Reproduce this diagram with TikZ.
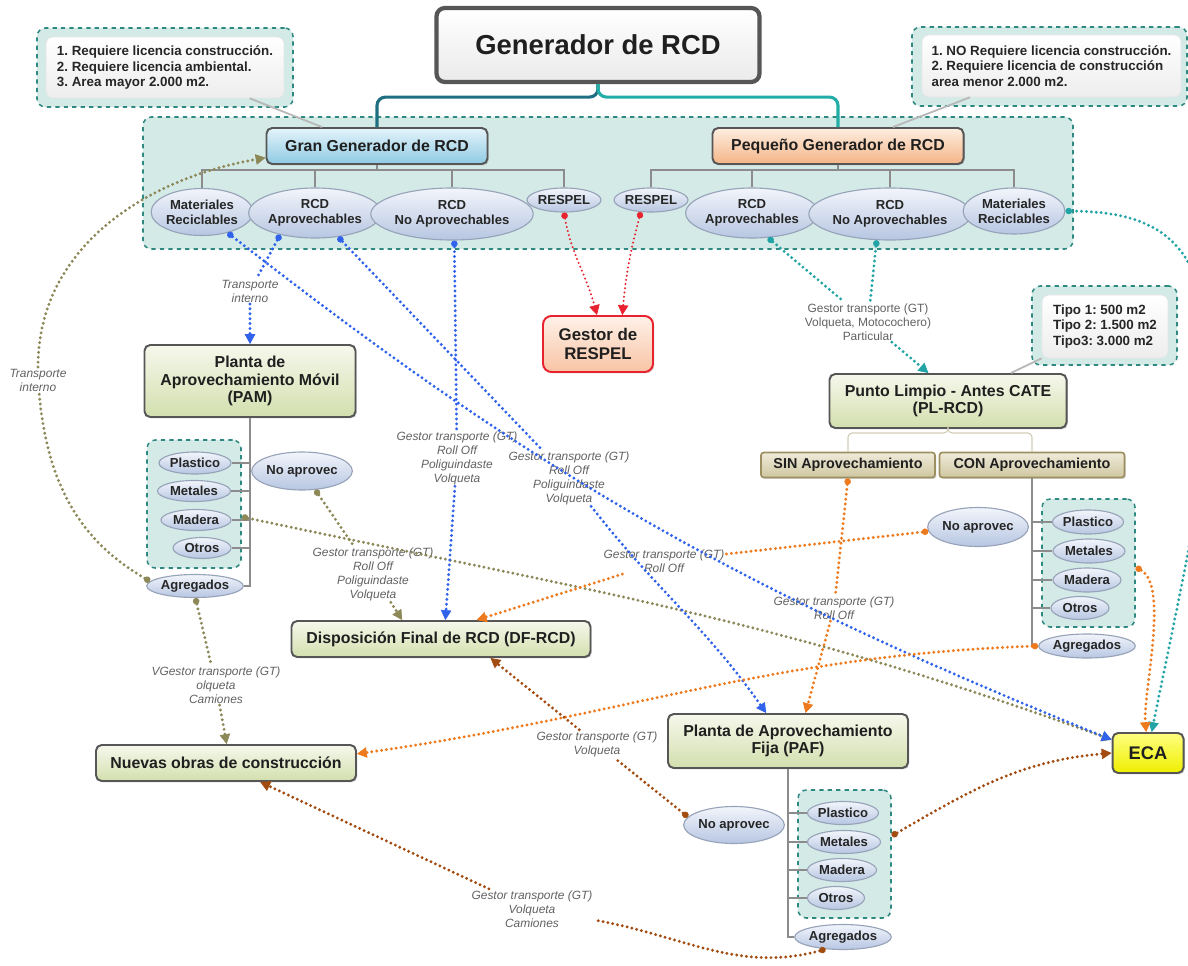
\documentclass[tikz,border=0pt]{standalone}
\usepackage{fontspec}
\setmainfont{Liberation Sans}
\usetikzlibrary{arrows.meta, shapes.geometric, shadows}
\frenchspacing

\definecolor{linkblue}{HTML}{3062EC}
\definecolor{linkteal}{HTML}{22A3A6}
\definecolor{linkred}{HTML}{E8222E}
\definecolor{linkolive}{HTML}{8C8858}
\definecolor{linkorange}{HTML}{EE7A1E}
\definecolor{linkbrown}{HTML}{A24C12}
\definecolor{hubdark}{HTML}{1E6F82}
\definecolor{hublight}{HTML}{22ADA6}
\definecolor{grpfill}{HTML}{D4EAE7}
\definecolor{grpline}{HTML}{2E8A80}
\definecolor{boxline}{HTML}{565656}
\definecolor{greentop}{HTML}{F6F8EC}
\definecolor{greenbot}{HTML}{D3DFAE}
\definecolor{tantop}{HTML}{EFEBDA}
\definecolor{tanbot}{HTML}{CFC6A0}
\definecolor{tanline}{HTML}{9C9060}
\definecolor{grantop}{HTML}{E4F3FA}
\definecolor{granbot}{HTML}{8FCBE4}
\definecolor{peqtop}{HTML}{FEEEE0}
\definecolor{peqbot}{HTML}{F4B487}
\definecolor{respeltop}{HTML}{FEF1E8}
\definecolor{respelbot}{HTML}{F8C4A4}
\definecolor{ecatop}{HTML}{FFFF80}
\definecolor{ecabot}{HTML}{EEEE00}
\definecolor{ellitop}{HTML}{F2F5FB}
\definecolor{ellibot}{HTML}{B7C6E2}
\definecolor{elliline}{HTML}{97A3B8}

\newlength\pxl
\setlength{\pxl}{0.025cm}

\begin{document}
\begin{tikzpicture}[
    x=0.025cm, y=-0.025cm,
    font=\fontsize{11.3}{12.5}\selectfont\bfseries,
    block/.style={draw=boxline, line width=1.4pt, rounded corners=4pt, align=center,
    inner sep=0pt, text=black!88,
    drop shadow={shadow xshift=1pt, shadow yshift=-1pt, opacity=0.3}},
    greenblock/.style={block, top color=greentop, bottom color=greenbot},
    tanblock/.style={block, draw=tanline, line width=1.2pt, rounded corners=2pt,
    top color=tantop, bottom color=tanbot, font=\fontsize{10.2}{12}\selectfont\bfseries},
    elli/.style={ellipse, draw=elliline, line width=0.8pt, top color=ellitop,
    bottom color=ellibot, inner sep=0pt, align=center, text=black!85,
    font=\fontsize{9.3}{10.7}\selectfont\bfseries},
    grp/.style={draw=grpline, dashed, line width=1.1pt, rounded corners=6pt, fill=grpfill},
    note/.style={rounded corners=5pt, top color=white, bottom color=black!7, draw=black!10,
    align=left, inner sep=0pt, text=black!85, font=\fontsize{9.5}{11}\selectfont\bfseries},
    lbl/.style={font=\fontsize{8.5}{10}\selectfont\mdseries\itshape, text=black!62,
    align=center, inner sep=1pt},
    tree/.style={draw=black!45, line width=0.8pt},
    hub/.style={line width=2.2pt, rounded corners=6pt},
    callout/.style={draw=black!28, line width=1.3pt},
    link/.style={line width=2.3pt, dash pattern=on 0pt off 3.5pt, line cap=round},
    arr/.style={-{Triangle[length=7pt,width=7.5pt,line width=0.5pt]}},
    dotarr/.style={{Circle[length=4.6pt,line width=0.4pt]}-{Triangle[length=7pt,width=7.5pt,line width=0.5pt]}},
    dotno/.style={{Circle[length=4.6pt,line width=0.4pt]}-}
    ]
    \useasboundingbox (0,0) rectangle (1188,965);

    % dashed groups
    \node[grp, minimum width=930\pxl, minimum height=132\pxl] (genGrp)  at (608,183)      {};
    \node[grp, minimum width=256\pxl, minimum height=79\pxl]  (noteL)   at (165,67.5)     {};
    \node[grp, minimum width=275\pxl, minimum height=79\pxl]  (noteR)   at (1049.5,66.5)  {};
    \node[grp, minimum width=145\pxl, minimum height=79\pxl]  (tipoOut) at (1104.5,325.5) {};
    \node[grp, minimum width=94\pxl,  minimum height=128\pxl] (grpP)    at (194,504)      {};
    \node[grp, minimum width=93\pxl,  minimum height=128\pxl] (grpC)    at (1088.5,563)   {};
    \node[grp, minimum width=93\pxl,  minimum height=128\pxl] (grpF)    at (844.5,854)    {};

    \node[note, minimum width=238\pxl, minimum height=61\pxl] (noteLin) at (165,67.5)
      {1. Requiere licencia construcción.\\2. Requiere licencia ambiental.\\3. Area mayor 2.000 m2.};
    \node[note, minimum width=259\pxl, minimum height=62\pxl] (noteRin) at (1051.5,66)
      {1. NO Requiere licencia construcción.\\2. Requiere licencia de construcción\\area menor 2.000 m2.};
    \node[note, minimum width=126\pxl, minimum height=63\pxl] (tipoIn)  at (1105,326.5)
      {Tipo 1: 500 m2\\Tipo 2: 1.500 m2\\Tipo3: 3.000 m2};

    % main blocks
    \node[block, line width=3pt, rounded corners=6pt, top color=white, bottom color=black!8,
      minimum width=323\pxl, minimum height=74\pxl,
      font=\fontsize{19.5}{22}\selectfont\bfseries] (gen) at (598,45) {Generador de RCD};
    \node[block, top color=grantop, bottom color=granbot, minimum width=221\pxl,
      minimum height=36\pxl] (gran) at (377,146) {Gran Generador de RCD};
    \node[block, top color=peqtop, bottom color=peqbot, minimum width=251\pxl,
      minimum height=36\pxl] (peq)  at (838,146) {Pequeño Generador de RCD};
    \node[block, draw=linkred, rounded corners=6pt, top color=respeltop, bottom color=respelbot,
      minimum width=110\pxl, minimum height=56\pxl,
      font=\fontsize{12}{13.5}\selectfont\bfseries] (respel) at (598,344) {Gestor de\\RESPEL};
    \node[greenblock, minimum width=211\pxl, minimum height=72\pxl] (pam) at (250,381)
      {Planta de\\Aprovechamiento Móvil\\(PAM)};
    \node[greenblock, minimum width=299\pxl, minimum height=36\pxl] (df) at (441,639)
      {Disposición Final de RCD (DF-RCD)};
    \node[greenblock, minimum width=260\pxl, minimum height=36\pxl] (nuevas) at (226,763)
      {Nuevas obras de construcción};
    \node[greenblock, minimum width=237\pxl, minimum height=54\pxl] (pl) at (948,401)
      {Punto Limpio - Antes CATE\\(PL-RCD)};
    \node[greenblock, minimum width=240\pxl, minimum height=54\pxl] (paf) at (788,741)
      {Planta de Aprovechamiento\\Fija (PAF)};
    \node[tanblock, minimum width=174\pxl, minimum height=25\pxl] (sin) at (848,465) {SIN Aprovechamiento};
    \node[tanblock, minimum width=185\pxl, minimum height=25\pxl] (con) at (1032,465) {CON Aprovechamiento};
    \node[block, top color=ecatop, bottom color=ecabot, minimum width=71\pxl, minimum height=40\pxl,
      font=\fontsize{13}{15}\selectfont\bfseries] (eca) at (1148,753) {ECA};

    % generator children
    \node[elli, minimum width=98\pxl,  minimum height=47\pxl] (mrL) at (202,212) {Materiales\\Reciclables};
    \node[elli, minimum width=121\pxl, minimum height=50\pxl] (apL) at (315,213) {RCD\\Aprovechables};
    \node[elli, minimum width=145\pxl, minimum height=52\pxl] (naL) at (452,214) {RCD\\No Aprovechables};
    \node[elli, minimum width=70\pxl,  minimum height=24\pxl] (reL) at (564,200) {RESPEL};
    \node[elli, minimum width=72\pxl,  minimum height=24\pxl] (reR) at (651,200) {RESPEL};
    \node[elli, minimum width=122\pxl, minimum height=50\pxl] (apR) at (752,213) {RCD\\Aprovechables};
    \node[elli, minimum width=145\pxl, minimum height=52\pxl] (naR) at (890,214) {RCD\\No Aprovechables};
    \node[elli, minimum width=97\pxl,  minimum height=46\pxl] (mrR) at (1014,211) {Materiales\\Reciclables};

    % PAM children
    \node[elli, minimum width=72\pxl, minimum height=22\pxl] (plP) at (195,463) {Plastico};
    \node[elli, minimum width=73\pxl, minimum height=21\pxl] (meP) at (194,491) {Metales};
    \node[elli, minimum width=70\pxl, minimum height=21\pxl] (maP) at (196,520) {Madera};
    \node[elli, minimum width=58\pxl, minimum height=21\pxl] (otP) at (202,548) {Otros};
    \node[elli, minimum width=94\pxl, minimum height=23\pxl] (agP) at (195,586) {Agregados};
    \node[elli, minimum width=98\pxl, minimum height=38\pxl] (naP) at (302,471) {No aprovec};

    % PL children
    \node[elli, minimum width=71\pxl, minimum height=24\pxl] (plC) at (1088,522) {Plastico};
    \node[elli, minimum width=72\pxl, minimum height=24\pxl] (meC) at (1089,551) {Metales};
    \node[elli, minimum width=68\pxl, minimum height=24\pxl] (maC) at (1087,580) {Madera};
    \node[elli, minimum width=58\pxl, minimum height=23\pxl] (otC) at (1080,608) {Otros};
    \node[elli, minimum width=93\pxl, minimum height=24\pxl] (agC) at (1087,646) {Agregados};
    \node[elli, minimum width=98\pxl, minimum height=39\pxl] (naC) at (978,527) {No aprovec};

    % PAF children
    \node[elli, minimum width=71\pxl, minimum height=23\pxl] (plF) at (843,813) {Plastico};
    \node[elli, minimum width=73\pxl, minimum height=23\pxl] (meF) at (844,842) {Metales};
    \node[elli, minimum width=69\pxl, minimum height=23\pxl] (maF) at (842,870) {Madera};
    \node[elli, minimum width=57\pxl, minimum height=23\pxl] (otF) at (836,898) {Otros};
    \node[elli, minimum width=91\pxl, minimum height=25\pxl] (agF) at (843,937) {Agregados};
    \node[elli, minimum width=99\pxl, minimum height=37\pxl] (naF) at (734,825) {No aprovec};

    % connector labels
    \node[lbl] (lTIa) at (250,291) {Transporte\\interno};
    \node[lbl] (lTIb) at (38,380)  {Transporte\\interno};
    \node[lbl] (lNA)  at (457,458) {Gestor transporte (GT)\\Roll Off\\Poliguindaste\\Volqueta};
    \node[lbl] (lAP)  at (569,478) {Gestor transporte (GT)\\Roll Off\\Poliguindaste\\Volqueta};
    \node[lbl] (lPM)  at (373,574) {Gestor transporte (GT)\\Roll Off\\Poliguindaste\\Volqueta};
    \node[lbl, font=\fontsize{8.5}{10}\selectfont\mdseries\upshape] (lPL) at (868,322)
      {Gestor transporte (GT)\\Volqueta, Motocochero)\\Particular};
    \node[lbl] (lNC)  at (664,561) {Gestor transporte (GT)\\Roll Off};
    \node[lbl] (lSN)  at (834,608) {Gestor transporte (GT)\\Roll Off};
    \node[lbl] (lAG)  at (216,685) {VGestor transporte (GT)\\olqueta\\Camiones};
    \node[lbl] (lBR)  at (597,744) {Gestor transporte (GT)\\Volqueta};
    \node[lbl] (lBA)  at (532,909) {Gestor transporte (GT)\\Volqueta\\Camiones};

    % hierarchy lines
    \draw[hub, hubdark]  (gen.south) -- ++(0,13) -| (gran.north);
    \draw[hub, hublight] (gen.south) -- ++(0,13) -| (peq.north);
    \draw[callout] (noteLin.-20) -- (gran.161);
    \draw[callout] (noteRin.-159) -- (peq.19);
    \draw[callout] (tipoIn.south west) -- (pl.24);
    \foreach \c in {mrL,apL,naL,reL} \draw[tree] (gran.south) -- ++(0,5) -| (\c.north);
    \foreach \c in {reR,apR,naR,mrR} \draw[tree] (peq.south) -- ++(0,5) -| (\c.north);
    \foreach \c in {plP,meP,maP,otP,agP} \draw[tree] (pam.south) |- (\c.east);
    \foreach \c in {plC,meC,maC,otC,agC} \draw[tree] (con.south) |- (\c.west);
    \foreach \c in {plF,meF,maF,otF,agF} \draw[tree] (paf.south) |- (\c.west);
    \foreach \c in {sin,con} \draw[tree, draw=tanline!45, rounded corners=3pt] (pl.south) -- ++(0,4) -| (\c.north);

    % olive
    \draw[link, linkolive, dotno] (agP.174) to[out=150, in=-85] (lTIb);
    \draw[link, linkolive, arr] (lTIb) to[out=90, in=190] (gran.186);
    \draw[link, linkolive, dotarr] (grpP.-15) to[out=-12, in=160] (eca.160);
    \draw[link, linkolive, dotno] (naP.-55) -- (lPM);
    \draw[link, linkolive, arr] (lPM) -- (df.154);
    \draw[link, linkolive, dotno] (agP.-88) -- (lAG);
    \draw[link, linkolive, arr] (lAG) -- (nuevas.88);

    % blue
    \draw[link, linkblue, dotno] (apL.-148) -- (lTIa);
    \draw[link, linkblue, arr] (lTIa) -- (pam.north);
    \draw[link, linkblue, dotarr] (mrL.-39) to[out=-38, in=158] (eca.160);
    \draw[link, linkblue, dotno] (apL.-46) -- (lAP);
    \draw[link, linkblue, arr] (lAP) to[out=-52, in=125] (paf.128);
    \draw[link, linkblue, dotno] (naL.-85) -- (lNA);
    \draw[link, linkblue, arr] (lNA) -- (df.77);

    % teal
    \draw[link, linkteal, dotno] (apR.-57) -- (lPL);
    \draw[link, linkteal, dotno] (naR.-117) -- (lPL);
    \draw[link, linkteal, arr] (lPL) -- (pl.125);
    \draw[link, linkteal, dotarr] (mrR.east) .. controls (1170,212) and (1215,250) .. (1210,400)
      .. controls (1208,470) and (1170,640) .. (eca.80);

    % red
    \draw[link, linkred, dotarr, line width=1.6pt, dash pattern=on 0pt off 3pt]
      (reL.south) to[out=-80, in=105] (respel.92);
    \draw[link, linkred, dotarr, line width=1.6pt, dash pattern=on 0pt off 3pt]
      (reR.-130) to[out=-105, in=85] (respel.50);

    % orange
    \draw[link, linkorange, dotno] (naC.185) -- (lNC);
    \draw[link, linkorange, arr] (lNC) -- (df.28);
    \draw[link, linkorange, dotno] (sin.south) -- (lSN);
    \draw[link, linkorange, arr] (lSN) -- (paf.58);
    \draw[link, linkorange, dotarr] (agC.west) to[out=182, in=8] (nuevas.4);
    \draw[link, linkorange, dotarr] (grpC.-5) to[out=-30, in=95, looseness=0.6] (eca.95);

    % brown
    \draw[link, linkbrown, dotno] (naF.170) -- (lBR);
    \draw[link, linkbrown, arr] (lBR) -- (df.-21);
    \draw[link, linkbrown, dotarr] (grpF.21) to[out=30, in=185] (eca.west);
    \draw[link, linkbrown, dotno] (agF.-145) to[out=-165, in=-10] (lBA);
    \draw[link, linkbrown, arr] (lBA) -- (nuevas.-29);
\end{tikzpicture}
\end{document}
